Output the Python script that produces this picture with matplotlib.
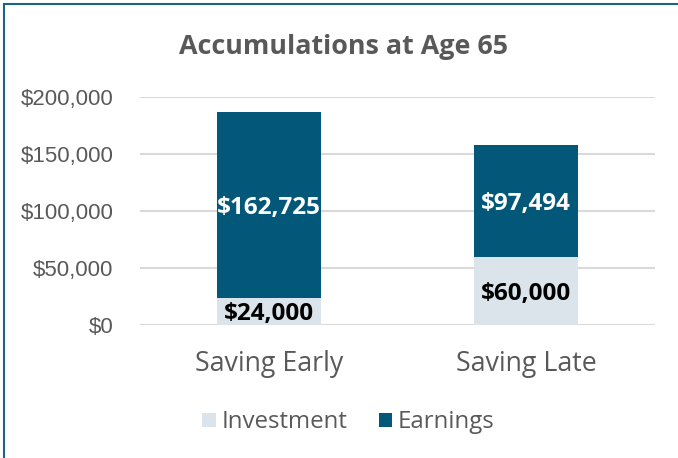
import matplotlib.pyplot as plt
from matplotlib.patches import Rectangle

# donnees
categories = ["Saving Early", "Saving Late"]
investment = [24000, 60000]
earnings = [162725, 97494]
yticks = [0, 50000, 100000, 150000, 200000]

col_inv = "#dae4ea"
col_earn = "#03587a"

fig = plt.figure(figsize=(6.78, 4.58), dpi=100)
ax = fig.add_axes([0.2065, 0.2904, 0.7595, 0.4978])

x = range(len(categories))
b1 = ax.bar(x, investment, width=0.405, color=col_inv, label="Investment", zorder=3)
b2 = ax.bar(x, earnings, width=0.405, bottom=investment, color=col_earn, label="Earnings", zorder=3)

# etiquettes de valeur au centre des segments
for i in x:
    ax.text(i, investment[i] / 2, f"${investment[i]:,}", ha="center", va="center_baseline",
            fontsize=17.5, fontweight="bold", family="Open Sans", color="black", zorder=4)
    ax.text(i, investment[i] + earnings[i] / 2, f"${earnings[i]:,}", ha="center", va="center_baseline",
            fontsize=17.5, fontweight="bold", family="Open Sans", color="white", zorder=4)

ax.set_ylim(0, 200000)
ax.set_xlim(-0.5, 1.5)
ax.set_yticks(yticks)
ax.set_yticklabels([f"${v:,}" for v in yticks], family="Liberation Sans", fontsize=16, color="#595959")
ax.set_xticks(list(x))
ax.set_xticklabels(categories, family="Open Sans", fontsize=19.3, color="#595959")
ax.tick_params(length=0)
ax.tick_params(axis="y", pad=19)
ax.tick_params(axis="x", pad=18)
ax.grid(axis="y", color="#d9d9d9", linewidth=1.5, zorder=0)
for s in ax.spines.values():
    s.set_visible(False)

fig.text(0.507, 0.897, "Accumulations at Age 65", ha="center", va="center",
         family="Open Sans", fontweight="bold", fontsize=19.4, color="#595959")

leg = fig.legend(handles=[b1, b2], loc="center", bbox_to_anchor=(0.514, 0.078), ncol=2,
                 frameon=False, prop={"family": "Open Sans", "size": 17.3},
                 handlelength=0.55, handleheight=0.55, handletextpad=0.25, columnspacing=1.3)
for t in leg.get_texts():
    t.set_color("#595959")

# cadre
fig.patches.append(Rectangle((4 / 678, -0.1), 1.2, 1.1 - 4 / 458, transform=fig.transFigure,
                             fill=False, edgecolor="#1d6480", linewidth=1.5))

fig.savefig("out.png", dpi=100)
